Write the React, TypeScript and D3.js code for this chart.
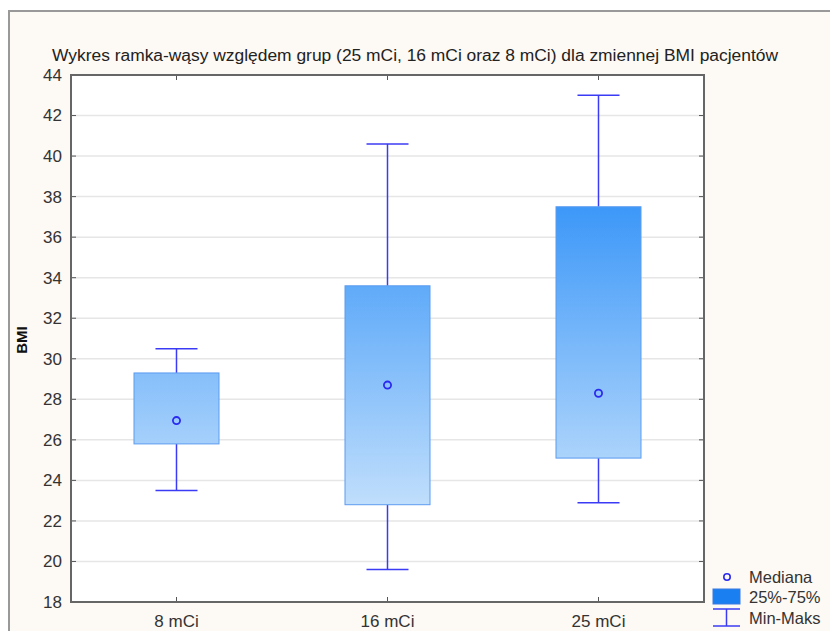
import React from "react";
import * as d3 from "d3";

const groups = ["8 mCi", "16 mCi", "25 mCi"];
const minValues = [23.5, 19.6, 22.9];
const q1Values = [25.8, 22.8, 25.1];
const medianValues = [26.95, 28.7, 28.3];
const q3Values = [29.3, 33.6, 37.5];
const maxValues = [30.5, 40.6, 43.0];
const yTicks = [18, 20, 22, 24, 26, 28, 30, 32, 34, 36, 38, 40, 42, 44];
const legendLabels = ["Mediana", "25%-75%", "Min-Maks"];

const W = 830;
const H = 631;
const plot = { left: 71, top: 75, right: 704, bottom: 602 };
const font = "'Liberation Sans', Arial, sans-serif";
const whiskerColor = "#3b3bf5";

export default function App() {
  const y = d3.scaleLinear().domain([18, 44]).range([plot.bottom, plot.top]);
  const x = d3.scaleBand().domain(groups).range([plot.left, plot.right]);
  const boxW = 85;
  const capW = 42;

  return (
    <svg
      width={W}
      height={H}
      style={{ position: "absolute", left: 0, top: 0, background: "#fff" }}
    >
      <defs>
        <linearGradient
          id="boxFill"
          gradientUnits="userSpaceOnUse"
          x1={0}
          x2={0}
          y1={208}
          y2={505}
        >
          <stop offset="0" stopColor="#3d98f8" />
          <stop offset="1" stopColor="#c0defc" />
        </linearGradient>
      </defs>
      {/* outer panel */}
      <rect x={9} y={11} width={W + 20} height={H + 20} fill="#fdf9f4" stroke="#999" strokeWidth={2} />

      <text
        x={52}
        y={61}
        textLength={726}
        lengthAdjust="spacingAndGlyphs"
        fontFamily={font}
        fontSize={16}
        fill="#222"
      >
        Wykres ramka-wąsy względem grup (25 mCi, 16 mCi oraz 8 mCi) dla zmiennej BMI pacjentów
      </text>

      {/* plot area */}
      <rect
        x={plot.left}
        y={plot.top}
        width={plot.right - plot.left}
        height={plot.bottom - plot.top}
        fill="#fff"
      />
      {yTicks.map((t) => (
        <g key={t}>
          {t !== 18 && t !== 44 && (
            <line x1={plot.left} x2={plot.right} y1={y(t)} y2={y(t)} stroke="#e6e6e6" strokeWidth={1.5} />
          )}
          <line x1={plot.left} x2={plot.left + 5} y1={y(t)} y2={y(t)} stroke="#555" strokeWidth={1} />
          <line x1={plot.right - 5} x2={plot.right} y1={y(t)} y2={y(t)} stroke="#555" strokeWidth={1} />
          <text
            x={62}
            y={y(t)}
            dy="0.35em"
            textAnchor="end"
            fontFamily={font}
            fontSize={17}
            fill="#333"
          >
            {t}
          </text>
        </g>
      ))}
      {groups.map((g) => {
        const cx = (x(g) as number) + x.bandwidth() / 2;
        return (
          <g key={g}>
            <line x1={cx} x2={cx} y1={plot.bottom} y2={plot.bottom - 5} stroke="#555" strokeWidth={1} />
            <line x1={cx} x2={cx} y1={plot.top} y2={plot.top + 5} stroke="#555" strokeWidth={1} />
            <text
              x={cx}
              y={621}
              dy="0.35em"
              textAnchor="middle"
              fontFamily={font}
              fontSize={17}
              fill="#333"
            >
              {g}
            </text>
          </g>
        );
      })}

      {/* boxes */}
      {groups.map((g, i) => {
        const cx = (x(g) as number) + x.bandwidth() / 2;
        return (
          <g key={g}>
            <line x1={cx} x2={cx} y1={y(maxValues[i])} y2={y(q3Values[i])} stroke={whiskerColor} strokeWidth={1.5} />
            <line x1={cx} x2={cx} y1={y(q1Values[i])} y2={y(minValues[i])} stroke={whiskerColor} strokeWidth={1.5} />
            <line
              x1={cx - capW / 2}
              x2={cx + capW / 2}
              y1={y(maxValues[i])}
              y2={y(maxValues[i])}
              stroke={whiskerColor}
              strokeWidth={1.5}
            />
            <line
              x1={cx - capW / 2}
              x2={cx + capW / 2}
              y1={y(minValues[i])}
              y2={y(minValues[i])}
              stroke={whiskerColor}
              strokeWidth={1.5}
            />
            <rect
              x={cx - boxW / 2}
              y={y(q3Values[i])}
              width={boxW}
              height={y(q1Values[i]) - y(q3Values[i])}
              fill="url(#boxFill)"
              stroke="#5b9cf0"
              strokeWidth={1}
            />
            <circle cx={cx} cy={y(medianValues[i])} r={3.6} fill="none" stroke="#2a2af0" strokeWidth={1.8} />
          </g>
        );
      })}

      <rect
        x={plot.left}
        y={plot.top}
        width={plot.right - plot.left}
        height={plot.bottom - plot.top}
        fill="none"
        stroke="#666"
        strokeWidth={2}
      />

      <text
        transform={`translate(27,${340}) rotate(-90)`}
        textAnchor="middle"
        fontFamily={font}
        fontSize={15}
        fontWeight="bold"
        fill="#111"
      >
        BMI
      </text>

      {/* legend */}
      <g fontFamily={font} fontSize={16.5} fill="#333">
        <circle cx={727} cy={577} r={3.2} fill="none" stroke="#2a2af0" strokeWidth={1.6} />
        <text x={749} y={577} dy="0.35em">{legendLabels[0]}</text>
        <rect x={713} y={589} width={27} height={15} fill="#1a7ff0" stroke="#3a7ae0" strokeWidth={1} />
        <text x={749} y={597} dy="0.35em">{legendLabels[1]}</text>
        <line x1={713} x2={740} y1={609} y2={609} stroke={whiskerColor} strokeWidth={1.5} />
        <line x1={726.5} x2={726.5} y1={609} y2={626} stroke={whiskerColor} strokeWidth={1.5} />
        <line x1={713} x2={740} y1={626} y2={626} stroke={whiskerColor} strokeWidth={1.5} />
        <text x={749} y={618} dy="0.35em">{legendLabels[2]}</text>
      </g>
    </svg>
  );
}
